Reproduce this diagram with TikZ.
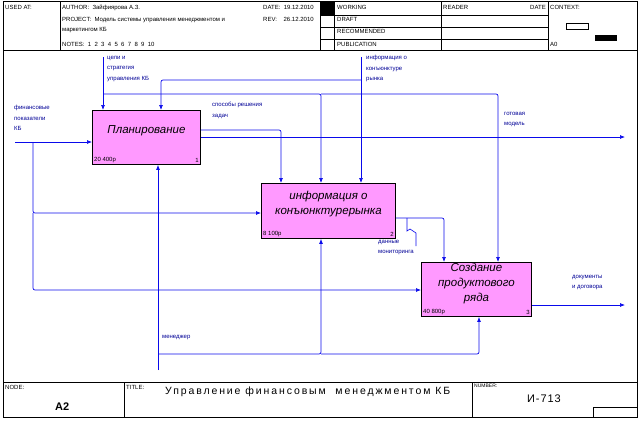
\documentclass[tikz,border=0pt]{standalone}
\usepackage{fontspec}
\setmainfont{Liberation Sans}
\usetikzlibrary{arrows.meta}
\definecolor{idefblue}{RGB}{10,10,235}
\definecolor{lblblue}{RGB}{0,0,150}
\definecolor{boxpink}{RGB}{255,153,255}
\begin{document}
\begin{tikzpicture}[x=1pt,y=-1pt,
		hdr/.style={font=\fontsize{6}{7}\selectfont,inner sep=0pt,anchor=base west},
		box/.style={draw,line width=0.9pt,fill=boxpink,anchor=north west,inner sep=0pt},
		boxname/.style={font=\fontsize{11.5}{15}\selectfont\itshape,align=center,inner sep=0pt},
		cost/.style={font=\fontsize{6}{7}\selectfont,inner sep=2pt},
		flow/.style={draw=idefblue,line width=0.7pt,rounded corners=2pt,-{Latex[length=5pt,width=4pt]}},
		pipe/.style={draw=idefblue,line width=0.6pt},
		lbl/.style={font=\fontsize{6}{10.5}\selectfont,text=lblblue,align=left,inner sep=0pt,anchor=north west}]
	\useasboundingbox (0,0) rectangle (641,421);
	% frame
	\draw[line width=0.8pt] (3,1) rectangle (637,417);
	\draw[line width=0.8pt] (3,50) -- (637,50);
	\draw[line width=0.8pt] (3,382) -- (637,382);
	\foreach \x in {60,320,334,441,548} \draw[line width=0.8pt] (\x,1) -- (\x,50);
	\foreach \y in {15,27,39} \draw[line width=0.8pt] (320,\y) -- (548,\y);
	\fill (320,1) rectangle (334,15);
	\draw[line width=0.8pt] (124,382) -- (124,417);
	\draw[line width=0.8pt] (472,382) -- (472,417);
	\draw[line width=0.8pt] (593,407) rectangle (637,417);
	\draw[line width=0.7pt] (566,23) rectangle (588,29);
	\fill (595,35) rectangle (617,41);
	% header texts
	\node[hdr] (usedat) at (5,9) {USED AT:};
	\node[hdr] (author) at (62,9) {AUTHOR:\ \ Зайфиярова А.З.};
	\node[hdr] (project) at (62,21) {PROJECT:\ \ Модель системы управления менеджментом и};
	\node[hdr] (project2) at (62,31) {маркетингом КБ};
	\node[hdr] (notes) at (62,46) {NOTES:\ \ 1\ \ 2\ \ 3\ \ 4\ \ 5\ \ 6\ \ 7\ \ 8\ \ 9\ \ 10};
	\node[hdr] (date) at (263,9) {DATE:\ \ 19.12.2010};
	\node[hdr] (rev) at (263,21) {REV:\ \ \ \ 26.12.2010};
	\node[hdr] (working) at (337,9) {WORKING};
	\node[hdr] (draft) at (337,21) {DRAFT};
	\node[hdr] (recom) at (337,33) {RECOMMENDED};
	\node[hdr] (public) at (337,46) {PUBLICATION};
	\node[hdr] (reader) at (443,9) {READER};
	\node[hdr,anchor=base east] (rdate) at (546,9) {DATE};
	\node[hdr] (context) at (550,9) {CONTEXT:};
	\node[hdr] (ctxnode) at (550,46) {A0};
	\node[hdr] (nodelbl) at (5,389) {NODE:};
	\node[hdr] (titlelbl) at (126,389) {TITLE:};
	\node[hdr,font=\fontsize{5}{6}\selectfont] (numlbl) at (474,387) {NUMBER:};
	\node[hdr,font=\fontsize{10.5}{12}\selectfont\addfontfeature{LetterSpace=18}] (title) at (165,394) {Управление финансовым\ \ менеджментом КБ};
	\node[hdr,font=\fontsize{11}{12}\selectfont\bfseries] (nodeid) at (55,410) {A2};
	\node[hdr,font=\fontsize{11}{12}\selectfont\addfontfeature{LetterSpace=8}] (number) at (527,402) {И-713};
	% boxes
	\node[box,minimum width=108pt,minimum height=54pt] (plan) at (92,110) {};
	\node[box,minimum width=134pt,minimum height=55pt] (konj) at (261,183) {};
	\node[box,minimum width=110pt,minimum height=54pt] (prod) at (421,262) {};
	\node[boxname] (plant) at ([yshift=7pt]plan.center) {Планирование};
	\node[boxname] (konjt) at ([yshift=7pt]konj.center) {информация о\\конъюнктурерынка};
	\node[boxname] (prodt) at ([yshift=6pt]prod.center) {Создание\\продуктового\\ряда};
	\node[cost,anchor=south west] (planc) at (plan.south west) {20 400р};
	\node[cost,anchor=south east] (plann) at (plan.south east) {1};
	\node[cost,anchor=south west] (konjc) at (konj.south west) {8 100р};
	\node[cost,anchor=south east] (konjn) at (konj.south east) {2};
	\node[cost,anchor=south west] (prodc) at (prod.south west) {40 800р};
	\node[cost,anchor=south east] (prodn) at (prod.south east) {3};
	% arrow ends
	\coordinate (goal) at (103,57);
	\coordinate (mkt) at (361,57);
	\coordinate (fin) at (15,142);
	\coordinate (mgr) at (158,370);
	\coordinate (model) at (625,137);
	\coordinate (docs) at (625,305);
	\coordinate (gx2) at (321,94);
	\coordinate (gx3) at (498,94);
	\coordinate (mx1) at (161,80);
	\coordinate (sx) at (281,130);
	\coordinate (fx) at (33,142);
	\coordinate (iy2) at (33,213);
	\coordinate (iy3) at (33,290);
	\coordinate (dx) at (444,218);
	\coordinate (sq) at (407,218);
	\coordinate (sqend) at (416,246);
	\coordinate (my) at (158,354);
	\coordinate (my2) at (321,354);
	\coordinate (mx3) at (479,354);
	% controls
	\draw[flow] (goal) -- (goal |- plan.north);
	\draw[flow] (goal |- gx2) -| (konj.north -| gx2);
	\draw[flow] (gx2) -| (prod.north -| gx3);
	\draw[flow] (mkt) -- (mkt |- konj.north);
	\draw[flow] (mkt |- mx1) -| (plan.north -| mx1);
	% inputs and outputs
	\draw[flow] (fin) -- (fin -| plan.west);
	\draw[flow] (fx) |- (konj.west |- iy2);
	\draw[flow] (iy2) |- (prod.west |- iy3);
	\draw[flow] (plan.east |- sx) -| (konj.north -| sx);
	\draw[flow] (plan.east |- model) -- (model);
	\draw[flow] (konj.east |- dx) -| (prod.north -| dx);
	\draw[flow] (prod.east |- docs) -- (docs);
	% mechanism
	\draw[flow] (mgr) -- (mgr |- plan.south);
	\draw[flow] (my) -| (konj.south -| my2);
	\draw[flow] (my2) -| (prod.south -| mx3);
	% labels
	\node[lbl] (goallbl) at (107,56) {цели и\\стратегия\\управления КБ};
	\node[lbl] (mktlbl) at (366,55) {информация о\\конъюнктуре\\рынка};
	\node[lbl] (finlbl) at (14,105) {финансовые\\показатели\\КБ};
	\node[lbl] (waylbl) at (212,102) {способы решения\\задач};
	\node[lbl] (modlbl) at (504,112) {готовая\\модель};
	\node[lbl] (monlbl) at (378,240) {данные\\мониторинга};
	\node[lbl] (doclbl) at (572,275) {документы\\и договора};
	\node[lbl] (mgrlbl) at (162,335) {менеджер};
	\draw[pipe] (sq) -- (407,231) -- (410,229) -- (416,233) -- (sqend);
\end{tikzpicture}
\end{document}
